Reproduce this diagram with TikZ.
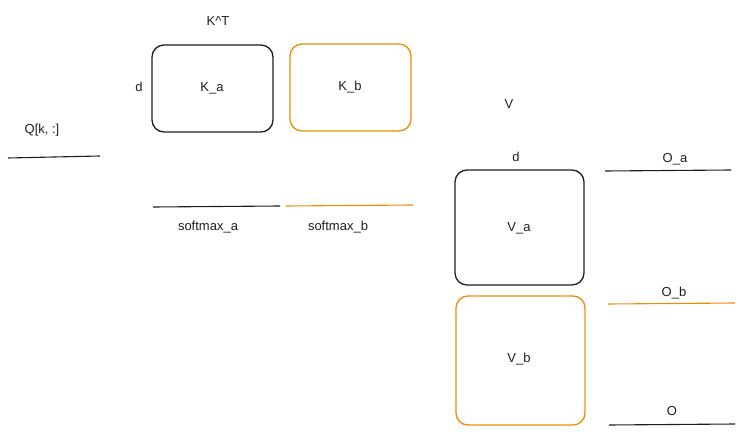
\documentclass[tikz,border=0pt]{standalone}
\usepackage{fontspec}
\setmainfont{Liberation Sans}
\definecolor{exor}{HTML}{F08C00}
\definecolor{exbk}{HTML}{1E1E1E}
\begin{document}
\begin{tikzpicture}[x=1pt,y=-1pt,
  box/.style={draw=exbk,line width=1.3pt,rounded corners=12pt},
  obox/.style={box,draw=exor},
  ln/.style={draw=exbk,line width=1.1pt},
  oln/.style={ln,draw=exor},
  lbl/.style={font=\fontsize{13}{15}\selectfont,text=exbk,inner sep=0pt}]
\useasboundingbox (0,0) rectangle (746,438);
% K boxes
\draw[box] (152,45) rectangle (273,132);
\draw[obox] (290,44) rectangle (411,131);
\node[lbl] (kt) at (218,21) {K\^{}T};
\node[lbl] (ka) at (212,88) {K\_a};
\node[lbl] (kb) at (350,87) {K\_b};
\node[lbl] (d1) at (139,87) {d};
% Q
\node[lbl] (q) at (42,130) {Q[k, :]};
\draw[ln] (8,158) -- (100,156);
% softmax
\draw[ln] (153,207) -- (280,206);
\draw[oln] (286,206) -- (413,205);
\node[lbl] (sa) at (208,227) {softmax\_a};
\node[lbl] (sb) at (338,227) {softmax\_b};
% V
\node[lbl] (v) at (509,104) {V};
\node[lbl] (d2) at (516,157) {d};
\draw[box] (455,170) rectangle (584,285);
\draw[obox] (456,296) rectangle (585,425);
\node[lbl] (va) at (519,228) {V\_a};
\node[lbl] (vb) at (519,359) {V\_b};
% O
\draw[ln] (605,171) -- (731,170);
\draw[oln] (608,304) -- (735,303);
\draw[ln] (609,425) -- (735,424);
\node[lbl] (oa) at (675,159) {O\_a};
\node[lbl] (ob) at (674,293) {O\_b};
\node[lbl] (o) at (672,411) {O};
\end{tikzpicture}
\end{document}
